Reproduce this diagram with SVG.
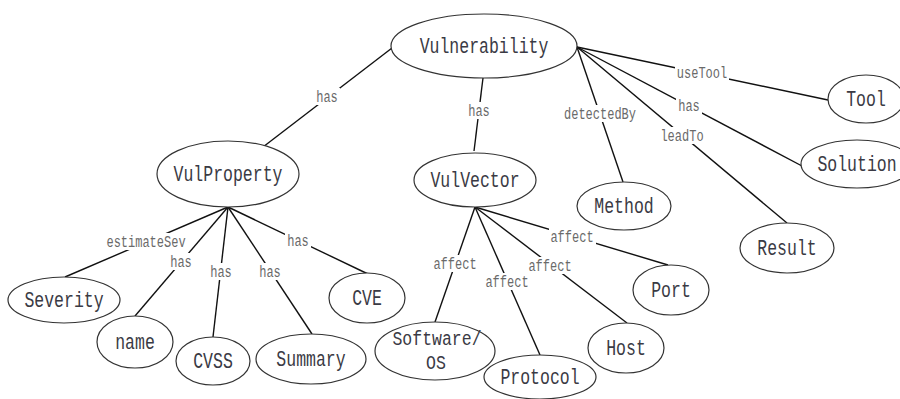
<svg xmlns="http://www.w3.org/2000/svg" width="900" height="399" viewBox="0 0 900 399">
<style>
  .node ellipse { fill: #fff; stroke: #333; stroke-width: 1.2; }
  .node text { font-family: "Liberation Mono", "DejaVu Sans Mono", monospace; font-size: 16.5px; fill: #3a3a44; text-anchor: middle; }
  #edges line { stroke: #111; stroke-width: 1.4; }
  #edges rect { fill: #fff; }
  #edges text { font-family: "Liberation Mono", "DejaVu Sans Mono", monospace; font-size: 12px; fill: #6a6a6a; text-anchor: middle; }
</style>
<rect width="900" height="399" fill="#fff"/>
<g id="edges">
  <line x1="392" y1="48" x2="263" y2="147"/>
  <line x1="483" y1="78" x2="474" y2="151"/>
  <line x1="577" y1="47" x2="623" y2="182"/>
  <line x1="577" y1="47" x2="828" y2="100"/>
  <line x1="577" y1="47" x2="802" y2="166"/>
  <line x1="577" y1="47" x2="787" y2="223"/>
  <line x1="228" y1="207" x2="65" y2="277"/>
  <line x1="228" y1="207" x2="135" y2="316"/>
  <line x1="228" y1="207" x2="213" y2="337"/>
  <line x1="228" y1="207" x2="312" y2="334"/>
  <line x1="228" y1="207" x2="368" y2="274"/>
  <line x1="475" y1="207" x2="435" y2="322"/>
  <line x1="475" y1="207" x2="540" y2="355"/>
  <line x1="475" y1="207" x2="627" y2="323"/>
  <line x1="475" y1="207" x2="668" y2="265"/>

  <rect x="314" y="88" width="26" height="17"/>
  <text transform="translate(327,102) scale(1,1.3)">has</text>
  <rect x="466" y="102" width="26" height="17"/>
  <text transform="translate(479,116) scale(1,1.3)">has</text>
  <rect x="562" y="105" width="76" height="17"/>
  <text transform="translate(600,119) scale(1,1.3)">detectedBy</text>
  <rect x="675" y="64" width="54" height="17"/>
  <text transform="translate(702,78) scale(1,1.3)">useTool</text>
  <rect x="676" y="97" width="26" height="17"/>
  <text transform="translate(689,111) scale(1,1.3)">has</text>
  <rect x="659" y="127" width="47" height="17"/>
  <text transform="translate(682,141) scale(1,1.3)">leadTo</text>
  <rect x="105" y="233" width="82" height="17"/>
  <text transform="translate(146,247) scale(1,1.3)">estimateSev</text>
  <rect x="168" y="253" width="26" height="17"/>
  <text transform="translate(181,267) scale(1,1.3)">has</text>
  <rect x="208" y="263" width="26" height="17"/>
  <text transform="translate(221,277) scale(1,1.3)">has</text>
  <rect x="257" y="263" width="26" height="17"/>
  <text transform="translate(270,277) scale(1,1.3)">has</text>
  <rect x="285" y="232" width="26" height="17"/>
  <text transform="translate(298,246) scale(1,1.3)">has</text>
  <rect x="432" y="255" width="47" height="17"/>
  <text transform="translate(455,269) scale(1,1.3)">affect</text>
  <rect x="484" y="273" width="47" height="17"/>
  <text transform="translate(507,287) scale(1,1.3)">affect</text>
  <rect x="527" y="257" width="47" height="17"/>
  <text transform="translate(550,271) scale(1,1.3)">affect</text>
  <rect x="549" y="228" width="47" height="17"/>
  <text transform="translate(572,242) scale(1,1.3)">affect</text>
</g>
<g id="n-vulnerability" class="node"><ellipse cx="484" cy="46" rx="93" ry="32"/><text transform="translate(484,53) scale(1,1.3)">Vulnerability</text></g>
<g id="n-vulproperty" class="node"><ellipse cx="228" cy="174" rx="71" ry="33"/><text transform="translate(228,181) scale(1,1.3)">VulProperty</text></g>
<g id="n-vulvector" class="node"><ellipse cx="475" cy="180" rx="61" ry="27"/><text transform="translate(475,187) scale(1,1.3)">VulVector</text></g>
<g id="n-method" class="node"><ellipse cx="624" cy="206" rx="47" ry="24"/><text transform="translate(624,213) scale(1,1.3)">Method</text></g>
<g id="n-result" class="node"><ellipse cx="787" cy="248" rx="47" ry="25"/><text transform="translate(787,255) scale(1,1.3)">Result</text></g>
<g id="n-solution" class="node"><ellipse cx="857" cy="164" rx="56" ry="24"/><text transform="translate(857,171) scale(1,1.3)">Solution</text></g>
<g id="n-tool" class="node"><ellipse cx="866" cy="99" rx="38" ry="24"/><text transform="translate(866,106) scale(1,1.3)">Tool</text></g>
<g id="n-severity" class="node"><ellipse cx="64" cy="300" rx="56" ry="23"/><text transform="translate(64,307) scale(1,1.3)">Severity</text></g>
<g id="n-name" class="node"><ellipse cx="135" cy="342" rx="38" ry="26"/><text transform="translate(135,349) scale(1,1.3)">name</text></g>
<g id="n-cvss" class="node"><ellipse cx="213" cy="361" rx="37" ry="24"/><text transform="translate(213,368) scale(1,1.3)">CVSS</text></g>
<g id="n-summary" class="node"><ellipse cx="311" cy="359" rx="55" ry="25"/><text transform="translate(311,366) scale(1,1.3)">Summary</text></g>
<g id="n-cve" class="node"><ellipse cx="367" cy="298" rx="38" ry="25"/><text transform="translate(367,305) scale(1,1.3)">CVE</text></g>
<g id="n-softwareos" class="node"><ellipse cx="435" cy="351" rx="60" ry="29"/><text transform="translate(437,345) scale(1,1.2)">Software/</text><text transform="translate(436,369) scale(1,1.2)">OS</text></g>
<g id="n-protocol" class="node"><ellipse cx="540" cy="377" rx="56" ry="22"/><text transform="translate(540,384) scale(1,1.3)">Protocol</text></g>
<g id="n-host" class="node"><ellipse cx="626" cy="348" rx="38" ry="25"/><text transform="translate(626,355) scale(1,1.3)">Host</text></g>
<g id="n-port" class="node"><ellipse cx="671" cy="290" rx="38" ry="25"/><text transform="translate(671,297) scale(1,1.3)">Port</text></g>
</svg>
